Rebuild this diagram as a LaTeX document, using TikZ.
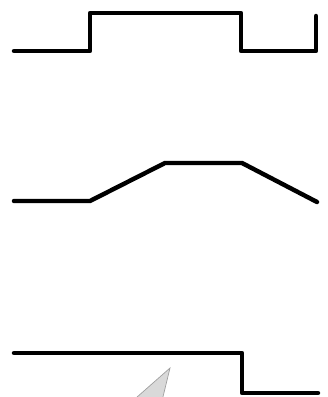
\documentclass[tikz,border=0pt]{standalone}
\begin{document}
\begin{tikzpicture}[x=0.03cm, y=-0.03cm,
    wave/.style={line width=3.8pt, line join=round, line cap=round},
    pointer/.style={fill=gray!30, draw=gray!75, semithick}]
    \useasboundingbox (0,0) rectangle (327,397);
    % pointer at the bottom, cut by the page edge
    \begin{scope}
        \clip (0,0) rectangle (327,397);
        \draw[pointer] (170,368) -- (128,405) -- (161,405) -- cycle;
    \end{scope}
    % square pulse
    \draw[wave] (14,51) -- (90,51) -- (90,13) -- (241,13) -- (241,51) -- (316,51) -- (316,16);
    % trapezoid
    \draw[wave] (14,201) -- (90,201) -- (165,163) -- (242,163) -- (317,202);
    % step down
    \draw[wave] (14,353) -- (242,353) -- (242,393) -- (318,393);
\end{tikzpicture}
\end{document}
